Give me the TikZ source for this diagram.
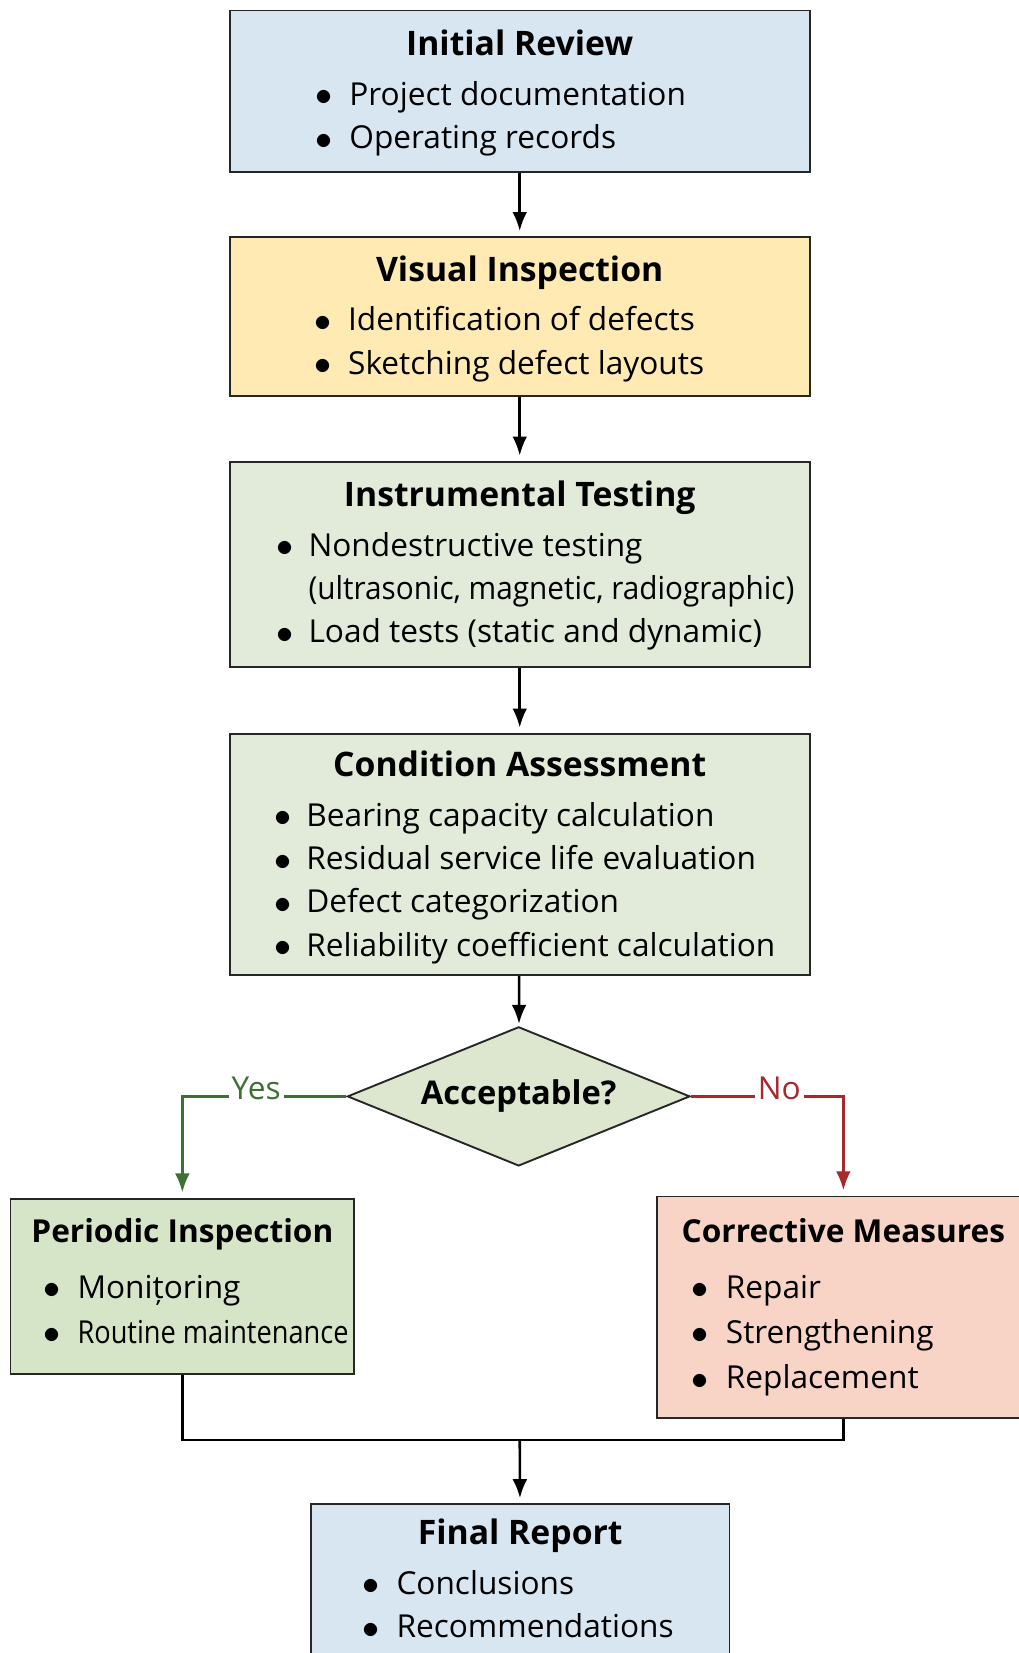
\documentclass[tikz,border=0pt]{standalone}
\usepackage{fontspec}
\setmainfont{Open Sans}
\usetikzlibrary{arrows.meta,shapes.geometric}

\newcommand{\bul}{\raisebox{-0.5pt}{\scalebox{1.3}{$\bullet$}}}
\newcommand{\bigtitle}[2]{\rule{0pt}{#1pt}{\fontsize{32}{41}\selectfont\bfseries #2}}
\newcommand{\smalltitle}[2]{\rule{0pt}{#1pt}{\bfseries #2}}

\tikzset{
  stage/.style={shape=rectangle, draw=black!85, line width=1.8pt, align=center, inner sep=0pt},
  flow/.style={-{Latex[length=18pt,width=14pt]}, line width=2.4pt, shorten >=5pt},
  answer/.style={fill=white, inner sep=3pt, anchor=base, yshift=-3pt},
}

\begin{document}
\begin{tikzpicture}[x=1pt,y=-1pt,font=\fontsize{30}{41}\selectfont]
\definecolor{review_blue}{RGB}{216,230,242}
\definecolor{visual_yellow}{RGB}{254,234,178}
\definecolor{test_green}{RGB}{226,235,218}
\definecolor{decide_green}{RGB}{221,231,208}
\definecolor{periodic_green}{RGB}{214,229,200}
\definecolor{measure_red}{RGB}{247,212,198}
\definecolor{yes_green}{RGB}{62,112,52}
\definecolor{no_red}{RGB}{168,40,44}
\useasboundingbox (0,0) rectangle (966,1568);

\node[stage,fill=review_blue,minimum width=550,minimum height=153] (init) at (493,86.5)
  {\bigtitle{33}{Initial Review}\\[6pt]
   \hspace*{-36pt}\begin{tabular}[t]{@{}c@{\hspace{16pt}}l@{}}
   \bul & Project documentation\\
   \bul & Operating records
   \end{tabular}};
\node[stage,fill=visual_yellow,minimum width=550,minimum height=151] (visual) at (493,300.5)
  {\bigtitle{33}{Visual Inspection}\\[6pt]
   \hspace*{-20pt}\begin{tabular}[t]{@{}c@{\hspace{16pt}}l@{}}
   \bul & Identification of defects\\
   \bul & Sketching defect layouts
   \end{tabular}};
\node[stage,fill=test_green,minimum width=550,minimum height=195] (instr) at (493,535.5)
  {\bigtitle{32}{Instrumental Testing}\\[6pt]
   \hspace*{30pt}\begin{tabular}[t]{@{}c@{\hspace{14pt}}l@{}}
   \bul & Nondestructive testing\\
        & \scalebox{0.94}[1]{(ultrasonic, magnetic, radiographic)}\\
   \bul & Load tests (static and dynamic)
   \end{tabular}};
\node[stage,fill=test_green,minimum width=550,minimum height=229] (cond) at (493,810.5)
  {\bigtitle{35}{Condition Assessment}\\[6pt]
   \hspace*{10pt}\begin{tabular}[t]{@{}c@{\hspace{14pt}}l@{}}
   \bul & Bearing capacity calculation\\
   \bul & Residual service life evaluation\\
   \bul & Defect categorization\\
   \bul & Reliability coefficient calculation
   \end{tabular}};
\node[shape=diamond,draw=black!85,line width=1.8pt,fill=decide_green,inner sep=0pt,aspect=2.46,
  minimum width=325,minimum height=132] (accept) at (492,1040)
  {\fontsize{31}{41}\selectfont\bfseries Acceptable?};
\node[stage,fill=periodic_green,minimum width=326,minimum height=166] (periodic) at (173,1220)
  {\smalltitle{25}{Periodic Inspection}\\[12pt]
   \hspace*{26pt}\begin{tabular}[t]{@{}c@{\hspace{16pt}}l@{}}
   \bul & Monițoring\\[2pt]
   \bul & \scalebox{0.86}[1]{Routine maintenance}
   \end{tabular}};
\node[stage,fill=measure_red,minimum width=354,minimum height=210] (corrective) at (800,1240)
  {\smalltitle{28}{Corrective Measures}\\[12pt]
   \hspace*{-58pt}\begin{tabular}[t]{@{}c@{\hspace{16pt}}l@{}}
   \bul & Repair\\[2pt]
   \bul & Strengthening\\[2pt]
   \bul & Replacement
   \end{tabular}};
\node[stage,fill=review_blue,minimum width=397,minimum height=145] (final) at (493.5,1499.5)
  {\bigtitle{32}{Final Report}\\[6pt]
   \hspace*{-4pt}\begin{tabular}[t]{@{}c@{\hspace{16pt}}l@{}}
   \bul & Conclusions\\
   \bul & Recommendations
   \end{tabular}};
\coordinate (merge) at (493,1366);

\draw[flow] (init) -- (visual);
\draw[flow] (visual) -- (instr);
\draw[flow] (instr) -- (cond);
\draw[flow,shorten >=2pt] (cond) -- (accept);
\draw[flow,color=yes_green] (accept.west) -| node[answer,pos=0.275] {Yes} (periodic.north);
\draw[flow,color=no_red] (accept.east) -| node[answer,pos=0.29] {No} (corrective.north);
\draw[line width=2.4pt] (periodic.south) |- (merge) -| (corrective.south);
\draw[flow] (merge) -- (final);
\end{tikzpicture}
\end{document}
